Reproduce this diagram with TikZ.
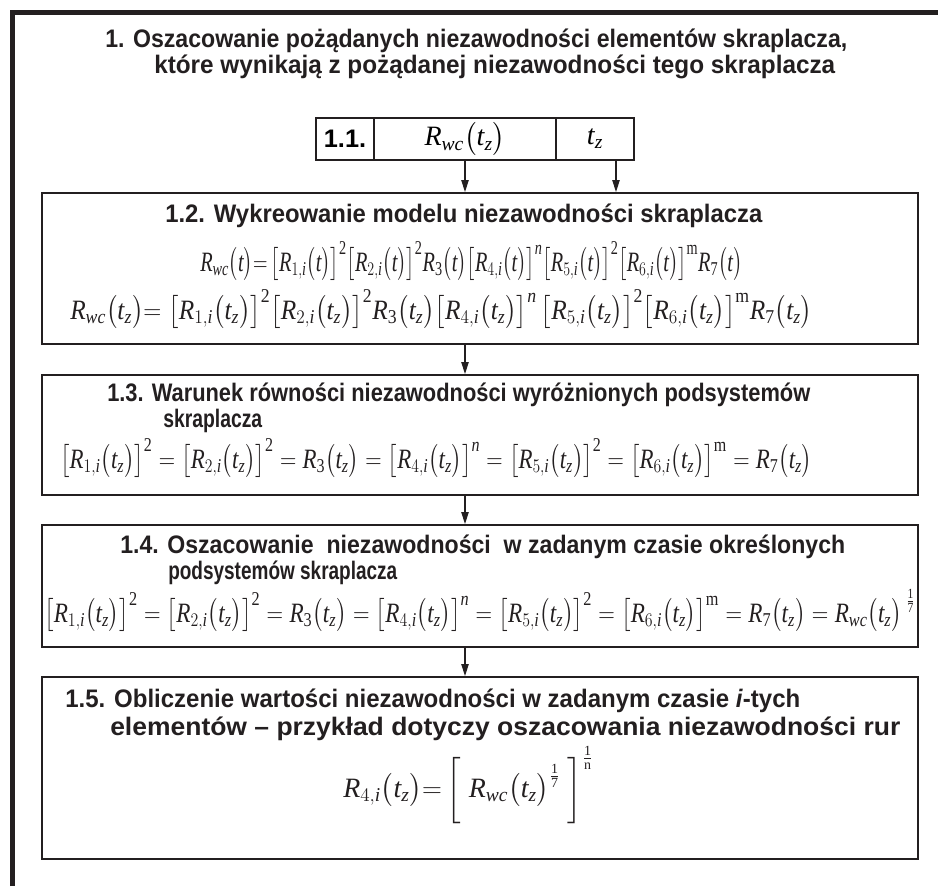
\documentclass[tikz,border=0pt]{standalone}
\usepackage{amsmath}
\usepackage{fontspec}
\usepackage{graphicx}
\setmainfont{Liberation Serif}
\setsansfont{Liberation Sans}
\usetikzlibrary{arrows.meta}
\definecolor{ink}{RGB}{35,31,32}
\newdimen\pxu \pxu=0.75pt
\newcommand\fitw[2]{\resizebox{#1\pxu}{\height}{#2}}
\newcommand\ttlfont{\fontsize{19}{22}\selectfont\sffamily\bfseries}
\newcommand\eqfont{\fontsize{21}{25}\selectfont}
\newcommand\ti[1]{\text{\itshape #1}}
\newcommand\tu[1]{\text{\upshape #1}}
\newcommand\Rs[1]{\ti{R}_{#1}}
\newcommand\mt{\ti{t}}
\newcommand\tz{\ti{t}_{\ti{z}}}
\newcommand\ii{\ti{i}}
\newcommand\pa[1]{\bigl(#1\bigr)}
\newcommand\sq[2]{\bigl[\Rs{#1}\pa{#2}\bigr]}
\newcommand\eqs{\mathrel{=}}
\tikzset{
  box/.style={draw=ink, line width=1.4pt, inner sep=0pt},
  ttl/.style={anchor=base west, inner sep=0pt, font=\ttlfont, text=ink},
  eqn/.style={anchor=base west, inner sep=0pt, font=\eqfont, text=ink},
  arr/.style={draw=ink, line width=0.8pt, -{Triangle[length=9pt,width=5.5pt]}},
}
\begin{document}
\begin{tikzpicture}[x=0.75pt,y=-0.75pt]
\useasboundingbox (0,0) rectangle (938,886);
% outer frame
\draw[ink, line width=3.75pt] (12,886) -- (12,12) -- (938,12);
% main title
\node[ttl] (t1) at (105,47) {\fitw{742}{1. Oszacowanie pożądanych niezawodności elementów skraplacza,}};
\node[ttl] (t2) at (154,73) {\fitw{681}{które wynikają z pożądanej niezawodności tego skraplacza}};
% box 1.1
\node[box, minimum width=58\pxu, minimum height=42\pxu] (c1) at (345,139) {\ttlfont 1.1.};
\node[box, minimum width=182\pxu, minimum height=42\pxu] (c2) at (465,139) {\eqfont $\Rs{\ti{wc}}\pa{\tz}$};
\node[box, minimum width=78\pxu, minimum height=42\pxu] (c3) at (595,139) {\eqfont $\tz$};
\coordinate (a2) at (616,160);
% box 1.2
\node[box, minimum width=876\pxu, minimum height=151\pxu] (b12) at (480,268.5) {};
\node[ttl] (t12) at (165,222) {\fitw{597}{1.2. Wykreowanie modelu niezawodności skraplacza}};
\node[eqn] (e12a) at (200,271) {\fitw{542}{$\Rs{\ti{wc}}\pa{\mt}{=}\,\sq{1,\ii}{\mt}^{\tu{2}}\sq{2,\ii}{\mt}^{\tu{2}}\Rs{\tu{3}}\pa{\mt}\sq{4,\ii}{\mt}^{\ti{n}}\sq{5,\ii}{\mt}^{\tu{2}}\sq{6,\ii}{\mt}^{\tu{m}}\Rs{\tu{7}}\pa{\mt}$}};
\node[eqn] (e12b) at (70,319) {\fitw{742}{$\Rs{\ti{wc}}\pa{\tz}{=}\;\sq{1,\ii}{\tz}^{\tu{2}}\sq{2,\ii}{\tz}^{\tu{2}}\Rs{\tu{3}}\pa{\tz}\sq{4,\ii}{\tz}^{\ti{n}}\,\sq{5,\ii}{\tz}^{\tu{2}}\sq{6,\ii}{\tz}^{\tu{m}}\Rs{\tu{7}}\pa{\tz}$}};
% box 1.3
\node[box, minimum width=876\pxu, minimum height=120\pxu] (b13) at (480,435) {};
\node[ttl] (t13a) at (107,401) {\fitw{703}{1.3. Warunek równości niezawodności wyróżnionych podsystemów}};
\node[ttl] (t13b) at (163,427) {\fitw{99}{skraplacza}};
\node[eqn] (e13) at (60,468) {\fitw{752}{$\sq{1,\ii}{\tz}^{\tu{2}}\eqs\sq{2,\ii}{\tz}^{\tu{2}}\eqs\Rs{\tu{3}}\pa{\tz}\eqs\sq{4,\ii}{\tz}^{\ti{n}}\eqs\sq{5,\ii}{\tz}^{\tu{2}}\eqs\sq{6,\ii}{\tz}^{\tu{m}}\eqs\Rs{\tu{7}}\pa{\tz}$}};
% box 1.4
\node[box, minimum width=876\pxu, minimum height=122\pxu] (b14) at (480,586) {};
\node[ttl] (t14a) at (120,553) {\fitw{725}{1.4. Oszacowanie \ niezawodności \ w zadanym czasie określonych}};
\node[ttl] (t14b) at (168,579) {\fitw{229}{podsystemów skraplacza}};
\node[eqn] (e14) at (44,622) {\fitw{871}{$\sq{1,\ii}{\tz}^{\tu{2}}\eqs\sq{2,\ii}{\tz}^{\tu{2}}\eqs\Rs{\tu{3}}\pa{\tz}\eqs\sq{4,\ii}{\tz}^{\ti{n}}\eqs\sq{5,\ii}{\tz}^{\tu{2}}\eqs\sq{6,\ii}{\tz}^{\tu{m}}\eqs\Rs{\tu{7}}\pa{\tz}\eqs\Rs{\ti{wc}}\pa{\tz}^{\;\frac{\tu{1}}{\tu{7}}}$}};
% box 1.5
\node[box, minimum width=876\pxu, minimum height=182\pxu] (b15) at (480,768) {};
\node[ttl] (t15a) at (65,707) {\fitw{735}{1.5. Obliczenie wartości niezawodności w zadanym czasie \textit{i}-tych}};
\node[ttl] (t15b) at (110,735) {\fitw{790}{elementów – przykład dotyczy oszacowania niezawodności rur}};
\node[eqn] (e15) at (343,797) {\fitw{250}{$\Rs{4,\ii}\pa{\tz}{=}\left[\;\Rs{\ti{wc}}\pa{\tz}^{\frac{\tu{1}}{\tu{7}}}\rule[-19pt]{0pt}{50pt}\;\right]^{\frac{\tu{1}}{\tu{n}}}$}};
% arrows
\draw[arr] (c2.south) -- (c2.south |- b12.north);
\draw[arr] (a2) -- (a2 |- b12.north);
\draw[arr] (c2.south |- b12.south) -- (c2.south |- b13.north);
\draw[arr] (c2.south |- b13.south) -- (c2.south |- b14.north);
\draw[arr] (c2.south |- b14.south) -- (c2.south |- b15.north);
\end{tikzpicture}
\end{document}
